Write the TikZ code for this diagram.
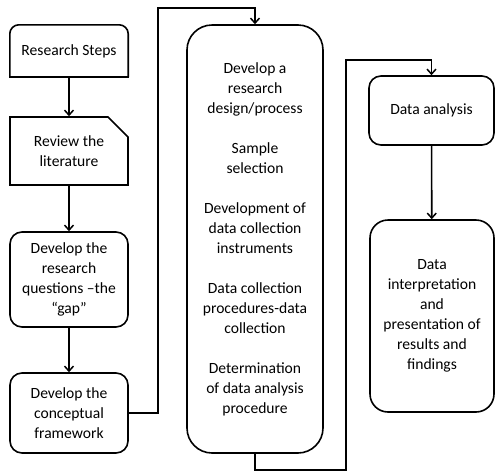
\documentclass[tikz,border=0pt]{standalone}
\usepackage{fontspec}
\setmainfont{Carlito}
\usetikzlibrary{arrows.meta,shapes.misc}
\begin{document}
\begin{tikzpicture}[x=1pt,y=-1pt,
  every node/.style={font=\fontsize{15.6}{20}\selectfont, align=center, inner sep=0pt},
  boxline/.style={line width=1.6pt, black},
  rbox/.style={boxline, draw, rectangle, rounded corners=#1},
  conn/.style={line width=1.6pt, -{Straight Barb[length=5pt,width=9pt,line width=1.5pt]}},
  plain/.style={line width=1.6pt}]
\useasboundingbox (0,0) rectangle (495,472);
% left column
\node[minimum width=118pt, minimum height=52pt] (b1) at (69,51) {Research Steps};
\draw[boxline, rounded corners=9pt] (b1.south west) -- (b1.north west) -- (b1.north east) -- (b1.south east);
\draw[boxline, line cap=rect] (b1.south west) -- (b1.south east);
\node[chamfered rectangle, chamfered rectangle corners=north east, chamfered rectangle xsep=10pt, chamfered rectangle ysep=10pt,
  draw, boxline, minimum width=118pt, minimum height=68pt] (b2) at (69,151) {Review the\\literature};
\node[rbox=12pt, minimum width=118pt, minimum height=95pt] (b3) at (69,279.5) {Develop the\\research\\questions \textendash the\\\textquotedblleft gap\textquotedblright};
\node[rbox=12pt, minimum width=118pt, minimum height=80pt] (b4) at (69,413) {Develop the\\conceptual\\framework};
% middle column
\node[rbox=25pt, minimum width=136pt, minimum height=428pt] (mid) at (255,239)
  {Develop a\\research\\design/process\\[20pt]Sample\\selection\\[20pt]Development of\\data collection\\instruments\\[20pt]Data collection\\procedures-data\\collection\\[20pt]Determination\\of data analysis\\procedure};
% right column
\node[rbox=12pt, minimum width=125pt, minimum height=69pt] (da) at (431.5,110.5) {Data analysis};
\node[rbox=18pt, minimum width=124pt, minimum height=192pt] (di) at (432,316) {Data\\interpretation\\and\\presentation of\\results and\\findings};
% connector corners
\coordinate (c1) at (158,413);
\coordinate (c2) at (158,8);
\coordinate (c3) at (346,470);
\coordinate (c4) at (346,60);
% connectors
\draw[conn] (b1) -- (b2);
\draw[conn] (b2) -- (b3);
\draw[conn] (b3) -- (b4);
\draw[conn] (b4.east) -- (c1) -- (c2) -| (mid.north);
\draw[conn] (mid.south) |- (c3) -- (c4) -| (da.north);
\draw[conn] (da) -- (di);
\end{tikzpicture}
\end{document}
